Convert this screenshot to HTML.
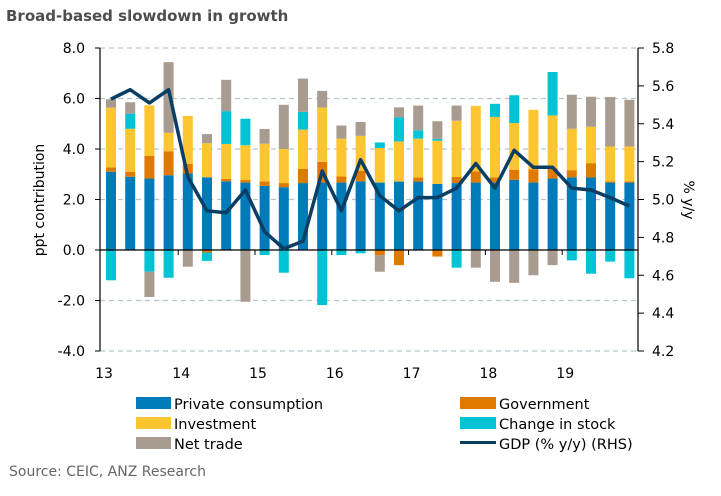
<!DOCTYPE html>
<html><head><meta charset="utf-8"><style>
body{margin:0;background:#fff;}
svg text{font-family:"DejaVu Sans","Liberation Sans",sans-serif;}
</style></head><body>
<svg id="chart" width="721" height="491" viewBox="0 0 721 491" xmlns="http://www.w3.org/2000/svg">
<text x="6" y="21" font-size="15" font-weight="bold" fill="#4d4d4d">Broad-based slowdown in growth</text>
<g id="grid"></g>
<g id="bars"></g>
<g id="axes"></g>
<g id="line"></g>
<text transform="translate(44,200) rotate(-90)" text-anchor="middle" font-size="14" fill="#000">ppt contribution</text>
<text transform="translate(684,200) rotate(90)" text-anchor="middle" font-size="14" fill="#000">% y/y</text>
<g font-size="14.5" fill="#000">
<rect x="136" y="397" width="35" height="12" fill="#007bba"/>
<text x="174" y="409">Private consumption</text>
<rect x="136" y="417" width="35" height="12" fill="#fdc530"/>
<text x="174" y="429">Investment</text>
<rect x="136" y="437" width="35" height="12" fill="#a89b8f"/>
<text x="174" y="449">Net trade</text>
<rect x="460" y="397" width="36" height="12" fill="#df7a00"/>
<text x="499" y="409">Government</text>
<rect x="460" y="417" width="36" height="12" fill="#00c4d6"/>
<text x="499" y="429">Change in stock</text>
<rect x="460" y="441" width="36" height="3" fill="#0a3f63"/>
<text x="499" y="449">GDP (% y/y) (RHS)</text>
</g>
<text x="9" y="476" font-size="14" fill="#666">Source: CEIC, ANZ Research</text>
</svg>
<script>
const years = ["13","14","15","16","17","18","19"];
const leftTicks = [8,6,4,2,0,-2,-4];
const rightTicks = [5.8,5.6,5.4,5.2,5.0,4.8,4.6,4.4,4.2];
const privCons = [3.1,2.9,2.83,2.96,3.04,2.88,2.72,2.67,2.54,2.49,2.65,2.67,2.67,2.72,2.67,2.71,2.71,2.62,2.65,2.67,2.67,2.78,2.67,2.83,2.88,2.87,2.67,2.67];
const govt = [0.17,0.2,0.9,0.95,0.37,-0.1,0.1,0.1,0.17,0.16,0.57,0.82,0.24,0.42,-0.2,-0.6,0.16,-0.26,0.24,0.44,0.2,0.4,0.53,0.41,0.28,0.57,0.05,0.05];
const invest = [2.37,1.7,2.0,0.73,1.9,1.35,1.38,1.38,1.5,1.35,1.55,2.15,1.5,1.38,1.37,1.59,1.54,1.71,2.23,2.6,2.4,1.85,2.35,2.09,1.64,1.44,1.38,1.38];
const stock = [-1.2,0.6,-0.86,-1.1,0,-0.33,1.3,1.05,-0.2,-0.9,0.7,-2.18,-0.2,-0.13,0.22,0.95,0.33,0.07,-0.7,0,0.52,1.1,0,1.72,-0.41,-0.94,-0.46,-1.12];
const netTrade = [0.33,0.45,-1.0,2.8,-0.66,0.36,1.24,-2.05,0.58,1.75,1.32,0.66,0.52,0.55,-0.66,0.4,0.98,0.7,0.6,-0.7,-1.26,-1.3,-1.0,-0.6,1.35,1.19,1.96,1.85];
const gdp = [5.53,5.58,5.51,5.58,5.12,4.94,4.93,5.05,4.83,4.74,4.78,5.15,4.94,5.21,5.02,4.94,5.01,5.01,5.06,5.19,5.06,5.26,5.17,5.17,5.06,5.05,5.01,4.965];

const NS="http://www.w3.org/2000/svg";
const X0=100, X1=638, YT=48, YB=351;
const yL = v => YB - (v - (-4)) / 12 * (YB - YT);
const yR = v => YB - (v - 4.2) / 1.6 * (YB - YT);
const xQ = i => 111 + i * 19.2;
function mk(tag, attrs, parent){const e=document.createElementNS(NS,tag);for(const k in attrs)e.setAttribute(k,attrs[k]);parent.appendChild(e);return e;}
const grid=document.getElementById('grid'), bars=document.getElementById('bars'), axes=document.getElementById('axes'), line=document.getElementById('line');

leftTicks.forEach(v=>{
  if(v!==0){const g=mk('line',{x1:X0,x2:X1,y1:yL(v),y2:yL(v),stroke:'#b4c6cc','stroke-width':1.2,'stroke-dasharray':'5,4'},grid);
  
  }
  const t=mk('text',{x:85,y:yL(v)+5,'text-anchor':'end','font-size':14,fill:'#000'},axes);
  t.textContent=v.toFixed(1);
  
  
  mk('line',{x1:X0-5,x2:X0,y1:yL(v),y2:yL(v),stroke:'#000'},axes);
});
rightTicks.forEach(v=>{
  const t=mk('text',{x:652,y:yR(v)+5,'font-size':14,fill:'#000'},axes);
  t.textContent=v.toFixed(1);
  
  
  mk('line',{x1:X1,x2:X1+6,y1:yR(v),y2:yR(v),stroke:'#000'},axes);
});
const series=[[privCons,'#007bba','private-consumption'],[govt,'#df7a00','government'],[invest,'#fdc530','investment'],[stock,'#00c4d6','change-in-stock'],[netTrade,'#a89b8f','net-trade']];
for(let i=0;i<privCons.length;i++){
  let pos=0,neg=0;
  series.forEach(([arr,col,nm])=>{
    const v=arr[i]; if(!v) return;
    let a,b; if(v>0){a=pos;b=pos+v;pos=b;}else{a=neg;b=neg+v;neg=b;}
    const r=mk('rect',{x:xQ(i)-5,width:10,y:yL(Math.max(a,b)),height:Math.abs(yL(a)-yL(b)),fill:col},bars);
    
    
  });
}
mk('line',{x1:X0,x2:X1,y1:yL(0),y2:yL(0),stroke:'#000','stroke-width':1.2},axes);
mk('line',{x1:X0,x2:X0,y1:YT,y2:YB,stroke:'#000','stroke-width':1.2},axes);
mk('line',{x1:X1,x2:X1,y1:YT,y2:YB,stroke:'#000','stroke-width':1.2},axes);
years.forEach((y,k)=>{
  const tx = k===0 ? 101 : xQ(k*4)-9.6;
  if(k>0) mk('line',{x1:tx,x2:tx,y1:yL(0),y2:yL(0)+5,stroke:'#000'},axes);
  const t=mk('text',{x:tx+3,y:378,'text-anchor':'middle','font-size':14,fill:'#000'},axes);
  t.textContent=y;
  
  
});
const p=mk('polyline',{points:gdp.map((v,i)=>xQ(i)+','+yR(v)).join(' '),fill:'none',stroke:'#0a3f63','stroke-width':3.5,'stroke-linejoin':'round'},line);


</script>
</body></html>
